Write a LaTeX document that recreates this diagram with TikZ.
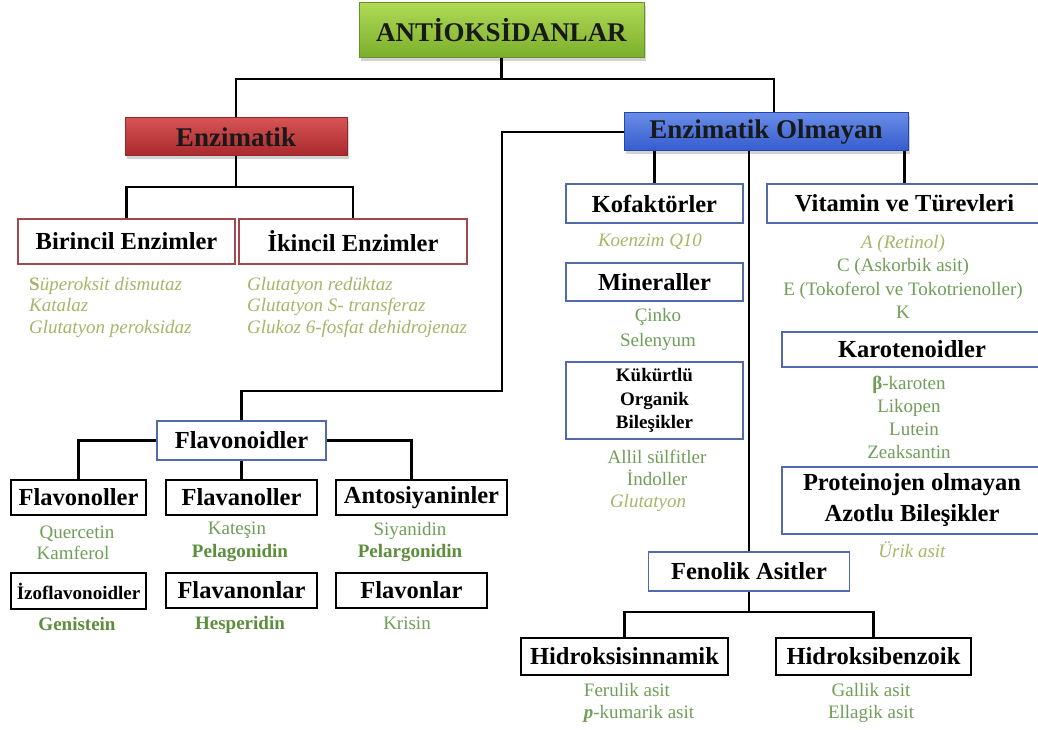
\documentclass[tikz,border=0pt]{standalone}
\usepackage{fontspec}
\setmainfont{Liberation Serif}
\usetikzlibrary{shadows}
\definecolor{olivec}{RGB}{166,182,104}
\definecolor{grnc}{RGB}{112,158,88}
\definecolor{bgrn}{RGB}{92,142,60}
\definecolor{redl}{RGB}{160,72,78}
\definecolor{bluel}{RGB}{82,106,172}
\definecolor{gdraw}{RGB}{104,146,40}
\definecolor{gtop}{RGB}{176,218,86}
\definecolor{gbot}{RGB}{122,174,42}
\definecolor{rdraw}{RGB}{150,40,44}
\definecolor{rtop}{RGB}{214,84,84}
\definecolor{rbot}{RGB}{168,40,44}
\definecolor{bdraw}{RGB}{40,70,170}
\definecolor{btop}{RGB}{104,140,232}
\definecolor{bbot}{RGB}{52,92,204}
\newcommand\topfnt{\bfseries\fontsize{27}{30}\selectfont}
\newcommand\bxfnt{\bfseries\fontsize{24.5}{31}\selectfont}
\newcommand\lstfnt{\fontsize{19}{21.5}\selectfont}
\begin{document}
\begin{tikzpicture}[x=1pt,y=-1pt,
  box/.style={rectangle, inner sep=0pt, fill=white, align=center},
  topbox/.style={box, draw=#1, line width=1pt, font=\topfnt, text=black!90,
    drop shadow={shadow xshift=2pt,shadow yshift=-3pt,opacity=0.35}},
  rbox/.style={box, draw=redl, line width=1.6pt, font=\bxfnt},
  bbox/.style={box, draw=bluel, line width=1.6pt, font=\bxfnt},
  kbox/.style={box, draw=black, line width=2.2pt, font=\bxfnt},
  con/.style={line width=2.2pt, black},
  oliv/.style={text=olivec, font=\lstfnt\itshape, align=left, inner sep=0pt},
  grn/.style={text=grnc, font=\lstfnt, align=center, inner sep=0pt},
  bgr/.style={text=bgrn, font=\lstfnt\bfseries, align=center, inner sep=0pt}]
\useasboundingbox (0,0) rectangle (1038,730);
\fill[white] (0,0) rectangle (1038,730);

% top level
\node[topbox=gdraw, top color=gtop, bottom color=gbot,
  minimum width=285pt, minimum height=55pt] (title) at (501.5,30.5) {ANTİOKSİDANLAR};
\node[topbox=rdraw, top color=rtop, bottom color=rbot,
  minimum width=222pt, minimum height=38pt] (enz) at (236,137) {Enzimatik};
\node[topbox=bdraw, top color=btop, bottom color=bbot,
  minimum width=284pt, minimum height=38pt] (enzo) at (766,132) {Enzimatik Olmayan};

\coordinate (h1) at (501.5,79);
\draw[con] (title.south) -- (h1);
\draw[con] (enz.north) |- (h1) -| ([xshift=8pt]enzo.north);

% Enzimatik branch
\node[rbox, minimum width=217pt, minimum height=45pt] (bir) at (126.5,241.5) {Birincil Enzimler};
\node[rbox, minimum width=228pt, minimum height=45pt] (ikin) at (353,241.5) {İkincil Enzimler};
\coordinate (h2) at (236,187);
\draw[con] (enz.south) -- (h2);
\draw[con] (bir.north) |- (h2) -| (ikin.north);
\node[oliv, anchor=west] (birl) at (29,307) {{\upshape\bfseries S}üperoksit dismutaz\\Katalaz\\Glutatyon peroksidaz};
\node[oliv, anchor=west] (ikinl) at (247,307) {Glutatyon redüktaz\\Glutatyon S- transferaz\\Glukoz 6-fosfat dehidrojenaz};

% Enzimatik olmayan branch
\node[bbox, minimum width=177pt, minimum height=39pt] (kof) at (654.5,203.5) {Kofaktörler};
\node[bbox, minimum width=275pt, minimum height=39pt] (vit) at (904.5,203.5) {Vitamin ve Türevleri};
\node[bbox, minimum width=177pt, minimum height=38pt] (min) at (654.5,282) {Mineraller};
\node[bbox, minimum width=177pt, minimum height=77pt, font=\bfseries\fontsize{19}{23.5}\selectfont] (kuk) at (654.5,400.5) {Kükürtlü\\Organik\\Bileşikler};
\node[bbox, minimum width=260pt, minimum height=35pt] (kar) at (912,349.5) {Karotenoidler};
\node[bbox, minimum width=260pt, minimum height=67pt, font=\bfseries\fontsize{24.5}{31}\selectfont] (prot) at (912,500.5) {Proteinojen olmayan\\Azotlu Bileşikler};
\node[bbox, minimum width=201pt, minimum height=39pt] (fen) at (749,571.5) {Fenolik Asitler};

\draw[con] (enzo.south -| kof.north) -- (kof.north);
\draw[con] (enzo.south -| vit.north) -- (vit.north);
\draw[con] (enzo.south -| fen.north) -- (fen.north);

\node[oliv] (koen) at (650,242) {Koenzim Q10};
\node[grn] (cinko) at (658,317) {Çinko};
\node[grn] (selen) at (658,342) {Selenyum};
\node[grn, font=\fontsize{19}{22}\selectfont] (kukl) at (657,481) {Allil sülfitler\\İndoller\\{\itshape\color{olivec}\hspace*{-18pt}Glutatyon}};
\node[grn, font=\fontsize{19}{23.3}\selectfont] (vitl) at (903,277) {{\itshape\color{olivec}A (Retinol)}\\C (Askorbik asit)\\E (Tokoferol ve Tokotrienoller)\\K};
\node[grn, font=\fontsize{19}{23}\selectfont] (karl) at (909,417.5) {{\bfseries β}-karoten\\Likopen\\\hspace*{10pt}Lutein\\Zeaksantin};
\node[oliv] (urik) at (912,550) {Ürik asit};

% Fenolik
\node[kbox, minimum width=207pt, minimum height=37pt] (hsin) at (624.5,656.5) {Hidroksisinnamik};
\node[kbox, minimum width=195pt, minimum height=37pt] (hben) at (873.5,656.5) {Hidroksibenzoik};
\coordinate (h3) at (749,612);
\draw[con] (fen.south) -- (h3);
\draw[con] (hsin.north) |- (h3) -| (hben.north);
\node[grn, font=\fontsize{19}{22}\selectfont] (hsinl) at (627,703) {Ferulik asit\\\hspace*{24pt}{\bfseries\itshape p}-kumarik asit};
\node[grn, font=\fontsize{19}{22}\selectfont] (hbenl) at (871,703) {Gallik asit\\Ellagik asit};

% Flavonoidler
\node[bbox, minimum width=169pt, minimum height=39pt] (flav) at (241.5,440.5) {Flavonoidler};
\coordinate (c1) at (502,391);
\draw[con] (enzo.west) -| (c1) -| (flav.north);
\node[kbox, minimum width=135pt, minimum height=35pt] (flvl) at (78.5,497.5) {Flavonoller};
\node[kbox, minimum width=151pt, minimum height=35pt] (flnl) at (241.5,497.5) {Flavanoller};
\node[kbox, minimum width=171pt, minimum height=35pt] (anto) at (421.5,497.5) {Antosiyaninler};
\draw[con] (flav.west) -| (flvl.north);
\draw[con] (flav.east) -| ([xshift=-10pt]anto.north);
\draw[con] (flav.south) -- (flnl.north);
\node[kbox, minimum width=135pt, minimum height=36pt, font=\bfseries\fontsize{19}{22}\selectfont] (izo) at (78.5,591) {İzoflavonoidler};
\node[kbox, minimum width=151pt, minimum height=35pt] (flnon) at (241.5,590.5) {Flavanonlar};
\node[kbox, minimum width=151pt, minimum height=35pt] (flvn) at (411.5,590.5) {Flavonlar};

\node[grn, font=\fontsize{19}{21}\selectfont] (flvll) at (73,542.5) {\hspace*{8pt}Quercetin\\Kamferol};
\node[grn] (kat) at (237,530) {Kateşin};
\node[bgr] (pel) at (240,553) {Pelagonidin};
\node[grn] (siy) at (410,531) {Siyanidin};
\node[bgr] (pelar) at (410,553) {Pelargonidin};
\node[bgr] (gen) at (77,624) {Genistein};
\node[bgr] (hes) at (240,625) {Hesperidin};
\node[grn] (kri) at (407,623) {Krisin};
\end{tikzpicture}
\end{document}
